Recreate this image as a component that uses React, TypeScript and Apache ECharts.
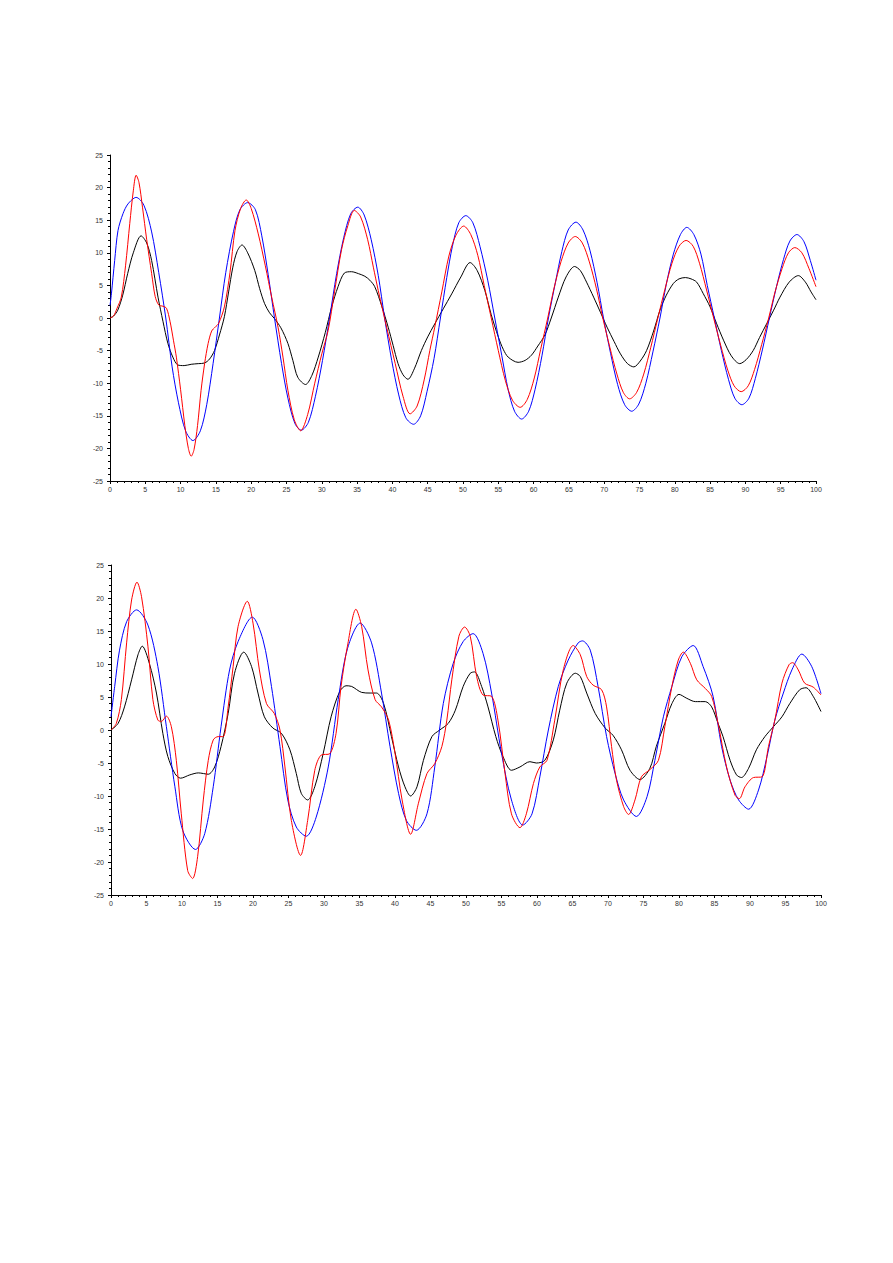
import React, { useEffect, useRef } from "react";
import * as echarts from "echarts";

type P = [number, number];

const topBlue: P[] = [[0,1.9],[0.2,3.7],[0.66,8.8],[1.13,13.4],[1.84,16],[2.55,17.5],[3.7,18.5],[4.8,17.3],[5.9,13.2],[6.9,7],[7.9,0],[8.8,-7.5],[9.7,-13],[10.7,-17.3],[11.75,-18.8],[12.8,-17.3],[13.7,-13.3],[14.6,-7],[15.5,0],[16.4,7],[17.5,13.3],[18.4,16.6],[19.5,17.7],[20.6,16.6],[21.5,12.6],[22.4,6.7],[23.3,0],[24.3,-7],[25.2,-12.3],[26.2,-16.2],[27.1,-17.2],[28.1,-16],[29.1,-12],[30.1,-6.5],[31.1,0],[32.1,6.8],[33.1,12.3],[34.1,16],[35.1,17],[36.0,15.8],[37.0,12],[38.0,6.5],[38.9,0],[39.9,-6.5],[40.9,-11.8],[41.9,-15.3],[43.0,-16.3],[44.0,-15],[44.9,-11.3],[45.9,-6.2],[46.8,0],[47.7,6.2],[48.5,11],[49.4,14.6],[50.4,15.7],[51.4,14.6],[52.4,11],[53.5,5.8],[54.5,0],[55.5,-5.8],[56.4,-11],[57.3,-14.3],[58.3,-15.5],[59.3,-14.3],[60.2,-11],[61.2,-5.7],[62.1,0],[63.1,5.5],[64.0,10.2],[64.9,13.5],[66.0,14.7],[67.0,13.5],[68.0,10.3],[69.0,5.4],[69.9,0],[70.9,-5.4],[71.9,-10.2],[72.9,-13.3],[73.9,-14.3],[74.9,-13.2],[75.9,-10],[76.9,-5.2],[77.9,0],[78.8,5.2],[79.8,9.8],[80.8,12.8],[81.7,13.9],[82.7,12.8],[83.7,9.8],[84.6,5],[85.6,0],[86.6,-5],[87.6,-9.4],[88.5,-12.3],[89.5,-13.3],[90.5,-12.3],[91.4,-9.3],[92.4,-4.9],[93.4,0],[94.4,4.8],[95.4,9],[96.3,11.8],[97.3,12.8],[98.3,11.7],[99.2,8.8],[100,5.8]];

const topRed: P[] = [[0,0],[0.5,0.3],[1.0,1.5],[1.6,3.2],[2.2,8],[2.8,14.5],[3.3,19.5],[3.7,21.9],[4.1,20.8],[4.6,17],[5.2,12],[5.9,6.8],[6.4,3.3],[6.9,2],[7.5,1.8],[8.0,1.5],[8.5,-0.5],[9.0,-3.5],[9.4,-6],[10.0,-11],[10.6,-16.5],[11.1,-20],[11.5,-21.2],[11.9,-20.2],[12.4,-16.5],[12.9,-11.1],[13.4,-7],[13.9,-3.9],[14.4,-2],[14.9,-1.4],[15.4,-0.8],[16.2,1.7],[17.0,7],[17.7,13.4],[18.5,16.8],[19.3,18.1],[20.0,16.8],[21.0,12.9],[22.0,8],[22.9,3.2],[23.8,-1.4],[24.5,-6],[25.2,-11.1],[26.1,-15.6],[27.0,-17.3],[28.0,-14.8],[29.0,-10],[30.0,-5.5],[30.9,-1.9],[31.8,4],[32.8,10.5],[33.7,14.2],[34.6,16.5],[35.5,15.5],[36.5,12],[37.3,7.8],[38.0,4.2],[39.2,-1.5],[40.4,-7],[41.5,-12],[42.5,-14.7],[43.5,-13.5],[44.5,-9.5],[45.3,-5],[46.0,-1.4],[47.0,4],[48.0,9.5],[49.0,12.7],[50.1,14.1],[51.1,12.8],[52.1,9.6],[53.0,5],[54.0,0],[55.0,-5],[56.0,-9.6],[57.0,-12.6],[58.1,-13.7],[59.1,-12.5],[60.1,-9.2],[61.0,-4.8],[62.0,0],[62.9,4.6],[63.9,8.7],[64.9,11.5],[65.9,12.5],[66.9,11.5],[67.9,8.6],[68.9,4.5],[69.8,0],[70.8,-4.5],[71.8,-8.6],[72.7,-11.4],[73.6,-12.4],[74.6,-11.4],[75.6,-8.6],[76.6,-4.5],[77.6,0],[78.6,4.4],[79.6,8.4],[80.6,11],[81.6,11.9],[82.6,11],[83.5,8.4],[84.5,4.3],[85.5,0],[86.5,-4.2],[87.5,-8],[88.4,-10.4],[89.4,-11.3],[90.4,-10.4],[91.3,-7.9],[92.3,-4.1],[93.3,0],[94.2,4],[95.2,7.6],[96.1,10],[97.0,10.8],[98.0,10],[99.0,7.6],[100,4.8]];

const topBlack: P[] = [[0,0],[0.5,0.3],[1.1,1.2],[1.8,3.5],[2.5,6.8],[3.3,10],[4.4,12.6],[5.2,11.5],[5.9,8.8],[6.8,3.2],[7.5,-0.5],[8.2,-3.9],[8.9,-6],[9.6,-7.2],[10.5,-7.3],[11.5,-7.1],[12.5,-7.0],[13.4,-6.9],[14.1,-6.3],[14.8,-5],[15.5,-2.6],[16.2,0.2],[16.8,4],[17.4,7.8],[18.0,10.2],[18.7,11.2],[19.5,10],[20.5,7.3],[21.2,4.5],[21.9,2.2],[22.6,0.8],[23.3,-0.1],[24.2,-1.5],[25.2,-3.9],[25.9,-6.5],[26.6,-9.1],[27.7,-10.2],[28.6,-8.8],[29.5,-6],[30.5,-2.2],[31.4,1.7],[32.3,4.8],[33.2,6.9],[34.2,7.1],[35.2,6.8],[36.1,6.4],[36.8,5.8],[37.5,4.8],[38.5,1.8],[39.4,-1.4],[40.1,-4.2],[40.8,-7],[41.5,-8.7],[42.2,-9.4],[43.1,-7.8],[44.1,-5],[45.0,-2.9],[46.0,-0.9],[47.2,1.4],[48.4,3.7],[49.7,6.3],[51.0,8.5],[52.0,7.3],[53.1,4.2],[54.0,0.5],[55.0,-2.9],[55.7,-4.8],[56.4,-6],[57.8,-6.8],[58.8,-6.5],[59.7,-5.7],[60.6,-4.3],[61.6,-2.6],[62.5,0],[63.5,3.2],[64.6,6.3],[65.8,7.9],[66.6,7.3],[67.5,5.5],[68.5,3.2],[69.5,0.8],[70.4,-1.4],[71.4,-3.6],[72.3,-5.5],[73.3,-7],[74.2,-7.5],[75.1,-6.6],[76.0,-5],[77.0,-2],[77.9,1.2],[78.8,3.5],[79.8,5.3],[80.6,6],[81.5,6.2],[82.3,6],[83.1,5.5],[84.0,3.8],[85.0,1.7],[85.9,-0.8],[86.9,-3.4],[88.0,-5.8],[89.2,-7.0],[90.1,-6.4],[91.1,-5],[92.0,-3],[93.0,-0.9],[94.0,1.2],[94.9,3.2],[96.2,5.5],[97.5,6.5],[98.5,5.5],[99.3,4],[100,2.8]];

const bottomBlue: P[] = [[0,2.0],[0.52,6.6],[1.2,12.1],[2.2,16.4],[3.6,18.2],[5.2,15.9],[6.6,9.6],[7.8,0.5],[9.0,-8.6],[10.1,-15.2],[11.9,-18.1],[13.2,-15.7],[14.4,-8.6],[15.5,0.5],[16.7,9.1],[17.9,13.4],[19.9,17.1],[21.4,13.7],[22.6,6.6],[23.8,-2.5],[24.9,-10.6],[26.1,-14.7],[27.5,-16.1],[28.9,-13.2],[30.6,-5.6],[32,4.6],[33.3,12.3],[35.1,16.2],[36.7,13.2],[38.1,5.6],[39.3,-2.5],[40.5,-9.6],[41.6,-13.7],[43.0,-15.2],[44.5,-12.7],[45.6,-5.6],[46.8,4.0],[48.2,10.1],[49.6,13.4],[51.0,14.6],[52.4,11.6],[53.6,5.6],[55.0,-3.5],[56.4,-10.6],[58.0,-14.4],[59.3,-12.7],[60.4,-7.1],[61.6,0],[63,6.6],[64.4,10.6],[65.8,13.2],[66.4,13.5],[67.5,12.1],[68.6,6.6],[69.8,-1.0],[71.0,-6.6],[72.2,-10.6],[74.0,-13.1],[75.5,-10.1],[76.6,-4.6],[77.8,2.0],[79,6.6],[80.4,11.1],[82.0,12.8],[83.4,9.6],[84.8,5.1],[86.0,-2.5],[87.2,-7.6],[88.4,-10.6],[89.8,-12.0],[91.2,-9.1],[92.4,-4.0],[93.5,1.5],[94.7,5.6],[95.9,9.1],[97.3,11.5],[98.7,9.6],[100,5.5]];

const bottomRed: P[] = [[0,0],[0.75,1.0],[1.46,4.6],[2.2,13.2],[2.9,19.7],[3.66,22.4],[4.3,20.2],[5.2,12.7],[5.9,4.6],[6.6,1.5],[7.1,1.3],[7.8,2.1],[8.5,0.5],[9.2,-4.6],[9.9,-12.7],[10.8,-21.3],[11.5,-22.5],[12.2,-19.2],[13.0,-10.6],[13.7,-4.6],[14.4,-1.5],[15.1,-1.0],[15.8,-1.0],[16.5,3.5],[17.2,9.6],[17.9,15.7],[19.2,19.5],[20.0,16.2],[20.9,9.1],[21.9,4.0],[23.0,2.5],[23.8,0],[24.5,-5.6],[25.4,-13.7],[26.7,-19.0],[27.7,-13.7],[28.7,-6.1],[29.6,-3.8],[30.8,-3.6],[31.7,-0.5],[32.4,6.6],[33.3,12.7],[34.5,18.3],[35.3,15.7],[36.2,9.1],[37.2,4.6],[38.1,3.5],[39.1,1.5],[40.0,-3.5],[41.0,-10.6],[42.2,-15.8],[43.3,-11.1],[44.5,-6.6],[45.6,-5.1],[46.6,-2.5],[47.3,1.5],[48.0,7.6],[49.0,14.2],[49.8,15.6],[50.6,14.2],[51.5,8.1],[52.4,5.3],[53.6,5.1],[54.5,1.5],[55.5,-6.6],[56.4,-12.7],[57.6,-14.8],[58.5,-12.7],[59.5,-8.1],[60.4,-5.6],[61.4,-4.6],[62.5,1.5],[63.7,9.1],[65.1,12.8],[66.1,11.4],[67.0,8.1],[67.9,6.8],[69.1,6.1],[69.8,3.5],[70.5,-2.5],[71.2,-7.6],[72.2,-11.6],[72.9,-12.8],[73.8,-10.6],[74.7,-7.1],[75.9,-6.0],[77.1,-4.6],[78.0,0.5],[79.0,6.6],[79.9,10.6],[80.6,11.8],[81.6,10.1],[82.5,7.6],[83.7,6.3],[84.6,5.1],[85.5,1.0],[86.7,-5.6],[87.9,-9.9],[88.5,-10.4],[89.3,-8.6],[90.5,-7.2],[91.7,-7.1],[92.6,-2.5],[93.5,1.5],[94.5,7.1],[95.5,9.9],[96.0,10.2],[96.8,9.1],[97.7,7.1],[98.9,6.5],[100,5.3]];

const bottomBlack: P[] = [[0,0],[1.0,1.0],[1.9,3.5],[2.9,7.6],[3.8,11.4],[4.4,12.7],[5.4,10.1],[6.4,5.6],[7.3,-0.5],[8.0,-4.0],[9.0,-6.6],[9.8,-7.3],[11.1,-6.8],[12.3,-6.5],[13.7,-6.7],[14.6,-5.6],[15.5,-2.5],[16.5,2.5],[17.4,8.6],[18.7,11.8],[19.8,9.6],[20.7,5.6],[21.6,2.0],[22.8,0.3],[24.0,-0.5],[25.2,-3.0],[26.1,-6.6],[26.8,-9.6],[27.7,-10.6],[28.7,-8.6],[29.9,-3.5],[31.0,2.0],[32.2,5.8],[33.1,6.7],[33.9,6.6],[35.3,5.7],[36.5,5.6],[37.4,5.6],[38.4,4.0],[39.5,-1.0],[40.5,-5.6],[41.4,-8.6],[42.2,-10.0],[43.1,-8.6],[44.0,-4.6],[45.2,-1.0],[46.3,0],[47.5,1.0],[48.5,3.0],[49.6,6.6],[50.6,8.6],[51.2,8.8],[52.2,6.6],[53.1,3.5],[54.2,-1.0],[55.2,-4.0],[56.4,-6.1],[57.6,-5.6],[59.0,-4.8],[59.9,-5.0],[61.1,-4.6],[62.3,-1.5],[63.2,3.0],[64.2,7.1],[65.4,8.6],[66.1,8.1],[67.0,5.6],[68.2,2.5],[69.6,0.3],[70.7,-0.8],[71.9,-3.0],[73.1,-6.1],[74.5,-7.5],[75.9,-5.8],[76.8,-2.5],[78.0,1.0],[79.0,4.0],[80.0,5.4],[81.1,4.8],[82.3,4.3],[83.7,4.3],[84.6,3.5],[85.5,1.0],[86.2,-1.0],[87.2,-4.6],[88.1,-6.8],[88.8,-7.2],[89.8,-5.8],[90.9,-3.0],[92.1,-1.0],[93.3,0.5],[94.5,2.0],[95.6,4.0],[97.0,6.1],[97.9,6.4],[98.9,5.1],[100,2.8]];

const X_MIN = 0, X_MAX = 100, X_STEP = 5;
const Y_MIN = -25, Y_MAX = 25, Y_STEP = 5;

const BLUE = "#0000ff";
const RED = "#ff0000";
const BLACK = "#000000";

const labelStyle = {
  fontSize: 7,
  color: "#333",
  fontFamily: "Liberation Sans, Arial, sans-serif",
};

function xAxisFor(gridIndex: number) {
  return {
    type: "value",
    gridIndex,
    min: X_MIN,
    max: X_MAX,
    interval: X_STEP,
    axisLine: { show: true, onZero: false, lineStyle: { color: "#000", width: 1 } },
    axisTick: { show: true, length: 3, lineStyle: { color: "#000", width: 1 } },
    minorTick: { show: true, splitNumber: 5, length: 2, lineStyle: { color: "#000", width: 1 } },
    splitLine: { show: false },
    axisLabel: { ...labelStyle, margin: 5 },
  };
}

function yAxisFor(gridIndex: number) {
  return {
    type: "value",
    gridIndex,
    min: Y_MIN,
    max: Y_MAX,
    interval: Y_STEP,
    axisLine: { show: true, onZero: false, lineStyle: { color: "#000", width: 1 } },
    axisTick: { show: true, length: 3, lineStyle: { color: "#000", width: 1 } },
    minorTick: { show: true, splitNumber: 5, length: 2, lineStyle: { color: "#000", width: 1 } },
    splitLine: { show: false },
    axisLabel: { ...labelStyle, margin: 7 },
  };
}

function line(data: P[], color: string, idx: number) {
  return {
    type: "line",
    xAxisIndex: idx,
    yAxisIndex: idx,
    data,
    smooth: 0.3,
    showSymbol: false,
    symbol: "none",
    lineStyle: { color, width: 1 },
    itemStyle: { color },
    silent: true,
  };
}

export default function App() {
  const ref = useRef<HTMLDivElement>(null);
  useEffect(() => {
    if (!ref.current) return;
    const chart = echarts.init(ref.current, undefined, { renderer: "svg" });
    chart.setOption({
      animation: false,
      backgroundColor: "#ffffff",
      grid: [
        { left: 110, top: 155, width: 706, height: 326 },
        { left: 111, top: 565, width: 710, height: 330 },
      ],
      xAxis: [xAxisFor(0), xAxisFor(1)],
      yAxis: [yAxisFor(0), yAxisFor(1)],
      series: [
        line(topBlack, BLACK, 0),
        line(topBlue, BLUE, 0),
        line(topRed, RED, 0),
        line(bottomBlack, BLACK, 1),
        line(bottomBlue, BLUE, 1),
        line(bottomRed, RED, 1),
      ],
    });
    return () => chart.dispose();
  }, []);
  return (
    <div
      ref={ref}
      style={{ position: "absolute", left: 0, top: 0, width: 893, height: 1263, background: "#fff" }}
    />
  );
}
